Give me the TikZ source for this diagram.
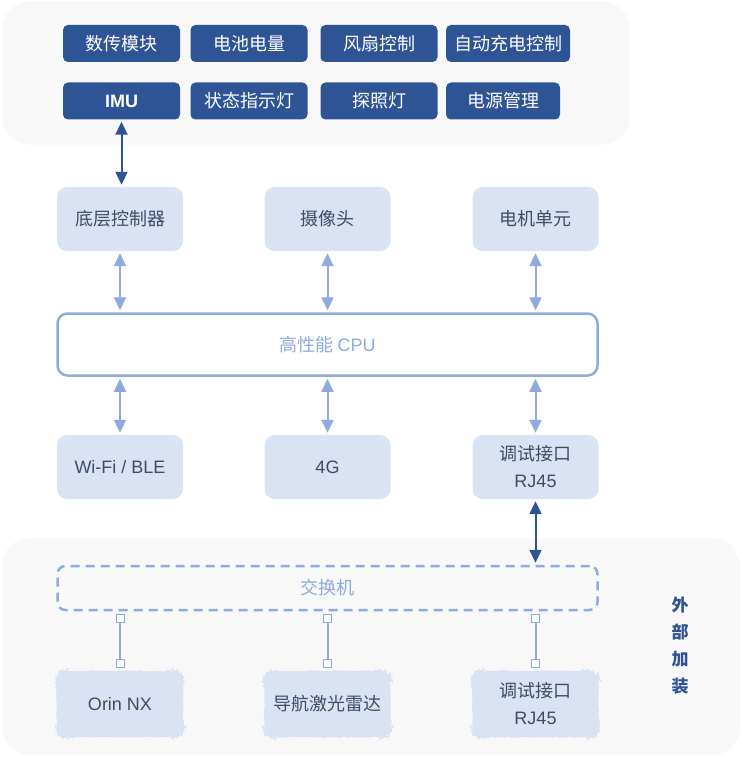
\documentclass[tikz,border=0pt]{standalone}
\usepackage{fontspec}
\setmainfont{Noto Sans CJK SC}
\newfontfamily\latinfont{Liberation Sans}
\newcommand{\lat}[1]{{\latinfont #1}}
\usetikzlibrary{arrows.meta, positioning, decorations.pathmorphing}
\definecolor{dark_blue}{RGB}{47,84,150}
\definecolor{light_blue}{RGB}{218,227,243}
\definecolor{line_blue}{RGB}{143,170,220}
\definecolor{panel_grey}{RGB}{248,248,248}
\definecolor{text_grey}{RGB}{62,76,104}

\begin{document}
\begin{tikzpicture}[x=1pt, y=-1pt, >={Triangle[length=13pt, width=12pt]},
    every node/.style={font=\fontsize{18}{27}\selectfont, align=center, inner sep=0pt},
    panel/.style={rectangle, rounded corners=28pt, fill=panel_grey},
    darkbox/.style={rectangle, rounded corners=5pt, fill=dark_blue, text=white, minimum width=117pt, minimum height=37pt},
    lightbox/.style={rectangle, rounded corners=10pt, fill=light_blue, text=text_grey, minimum width=126pt, minimum height=64pt},
    fuzzybox/.style={lightbox, minimum width=124pt, minimum height=64pt, draw=light_blue, line width=1.5pt, decorate,
      decoration={random steps, segment length=4pt, amplitude=0.4pt}},
    port/.style={rectangle, draw=line_blue, fill=white, line width=1pt, minimum size=8pt},
    link/.style={<->, line_blue, line width=2pt, shorten <=2pt, shorten >=2pt},
    mainlink/.style={<->, dark_blue, line width=2pt, shorten <=2pt, shorten >=2pt}]
      \useasboundingbox (0,0) rectangle (742,757);
      % panels
      \node[panel, minimum width=628pt, minimum height=143pt] (toppanel) at (316,73) {};
      \node[panel, minimum width=738pt, minimum height=217pt] (botpanel) at (371,646.5) {};
      % sensor and peripheral modules
      \node[darkbox] (radio) at (121.5,43.5) {数传模块};
      \node[darkbox] (battery) at (249,43.5) {电池电量};
      \node[darkbox] (fan) at (379,43.5) {风扇控制};
      \node[darkbox, minimum width=124pt] (charge) at (508,43.5) {自动充电控制};
      \node[darkbox] (imu) at (121.5,101) {\lat{\bfseries IMU}};
      \node[darkbox] (status) at (249,101) {状态指示灯};
      \node[darkbox] (lamp) at (379,101) {探照灯};
      \node[darkbox, minimum width=114pt] (power) at (503,101) {电源管理};
      % core units
      \node[lightbox] (ctrl) at (120,219) {底层控制器};
      \node[lightbox] (camera) at (327.5,219) {摄像头};
      \node[lightbox] (motor) at (535.5,219) {电机单元};
      \node[rectangle, rounded corners=10pt, draw=line_blue, line width=2.5pt, fill=white, text=line_blue,
            minimum width=540pt, minimum height=62pt] (cpu) at (327.5,344.5) {高性能 \lat{CPU}};
      \node[lightbox] (wifi) at (120,467) {\lat{Wi-Fi / BLE}};
      \node[lightbox] (lte) at (327.5,467) {\lat{4G}};
      \node[lightbox] (debug) at (535.5,467) {调试接口\\\lat{RJ45}};
      % external add-ons
      \node[rectangle, rounded corners=8pt, draw=line_blue, dash pattern=on 9pt off 6pt, line width=2.5pt,
            text=line_blue, minimum width=540pt, minimum height=44pt] (switch) at (327.5,588) {交换机};
      \node[fuzzybox] (orin) at (120,704) {\lat{Orin NX}};
      \node[fuzzybox] (lidar) at (327.5,704) {导航激光雷达};
      \node[fuzzybox] (extdebug) at (535.5,704) {调试接口\\\lat{RJ45}};
      \node[text=dark_blue, font=\fontsize{17}{27}\selectfont\bfseries] (extlabel) at (680,646) {外\\部\\加\\装};
      % links
      \draw[mainlink] (imu.south) -- (imu.south |- ctrl.north);
      \draw[link] (ctrl) -- (ctrl |- cpu.north);
      \draw[link] (camera) -- (camera |- cpu.north);
      \draw[link] (motor) -- (motor |- cpu.north);
      \draw[link] (wifi) -- (wifi |- cpu.south);
      \draw[link] (lte) -- (lte |- cpu.south);
      \draw[link] (debug) -- (debug |- cpu.south);
      \draw[mainlink] (debug.south) -- (debug.south |- switch.north);
      \foreach \dev/\px in {orin/120, lidar/327.5, extdebug/535.5} {
        \node[port] (\dev top) at (\px,618) {};
        \node[port] (\dev bot) at (\px,663) {};
        \draw[line_blue, line width=2pt] (\dev top) -- (\dev bot);
      }
    \end{tikzpicture}
\end{document}
